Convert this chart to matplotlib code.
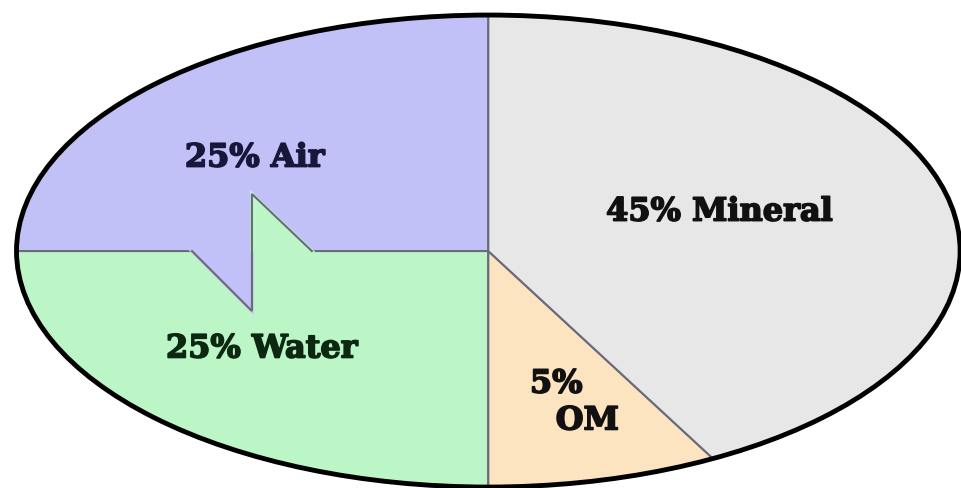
import matplotlib
matplotlib.use("Agg")
import matplotlib.pyplot as plt
import matplotlib.patheffects as pe
from matplotlib.patches import Circle, Polygon

# soil composition, order = drawing order (counter-clockwise from 12 o'clock)
names = ["Air", "Water", "OM", "Mineral"]
label_pct = [25, 25, 5, 45]
# wedge sizes as actually drawn in the picture (the OM slice is drawn wider than 5%)
drawn_shares = [25, 25, 7.9, 42.1]
colors = ["#c1c1f7", "#bdf6c6", "#fbe4bf", "#e7e7e7"]
text_colors = ["#17173a", "#0c2812", "#111111", "#111111"]

fig = plt.figure(figsize=(9.62, 4.89), dpi=100)
ax = fig.add_axes([0, 0, 1, 1])

wedges, _ = ax.pie(
    drawn_shares,
    colors=colors,
    startangle=90,
    counterclock=True,
    radius=1,
    wedgeprops=dict(edgecolor="#6a6a7c", linewidth=1.5),
)

# zigzag step on the Air / Water border
zz_x = [-0.628, -0.501, -0.501, -0.374]
zz_y = [0.0, -0.254, 0.242, 0.0]
ax.add_patch(Polygon([(zz_x[0], 0), (zz_x[1], zz_y[1]), (zz_x[1], 0)],
                     closed=True, fc=colors[0], ec=colors[0], lw=2.5, zorder=3))
ax.add_patch(Polygon([(zz_x[2], 0), (zz_x[2], zz_y[2]), (zz_x[3], 0)],
                     closed=True, fc=colors[1], ec=colors[1], lw=2.5, zorder=3))
ax.plot(zz_x, zz_y, color="#6a6a7c", lw=1.5, zorder=4, solid_joinstyle="miter")

# heavy outer rim
ax.add_patch(Circle((0, 0), 1, fill=False, ec="black", lw=3.5, zorder=5))

font = dict(family="DejaVu Serif", fontweight="bold", fontsize=23,
            ha="center", va="center", zorder=6)


def label(x, y, s, c):
    ax.text(x, y, s, color=c,
            path_effects=[pe.withStroke(linewidth=1.2, foreground=c)], **font)


label(-0.495, 0.394, f"{label_pct[0]}% {names[0]}", text_colors[0])
label(-0.480, -0.415, f"{label_pct[1]}% {names[1]}", text_colors[1])
label(0.490, 0.165, f"{label_pct[3]}% {names[3]}", text_colors[3])
label(0.144, -0.564, f"{label_pct[2]}%", text_colors[2])
label(0.210, -0.720, names[2], text_colors[2])

ax.set_aspect("auto")
ax.set_xlim(-1.035, 1.004)
ax.set_ylim(-1.004, 1.068)
ax.axis("off")

fig.savefig("out.png", dpi=100, facecolor="white")
